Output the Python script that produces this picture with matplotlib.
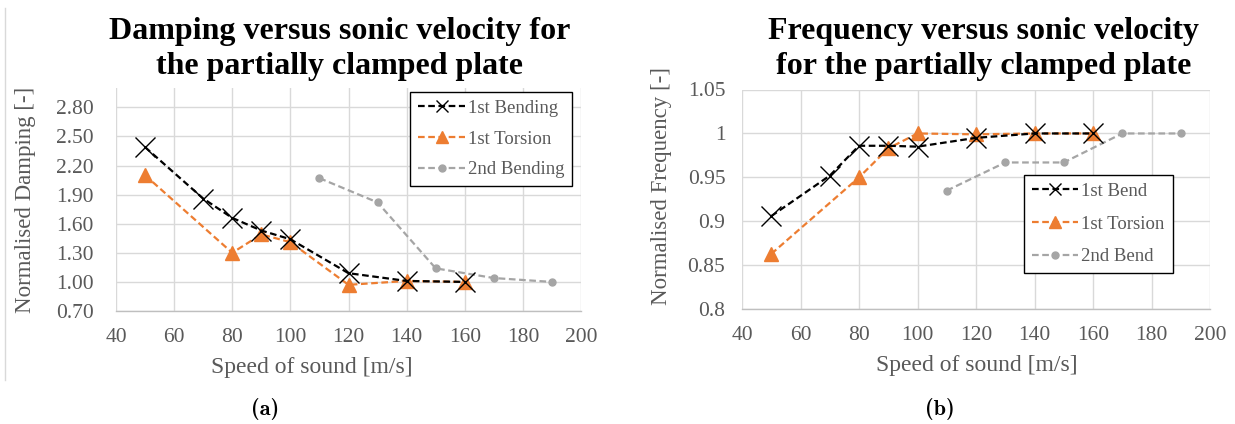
import matplotlib
matplotlib.use("Agg")
import matplotlib.pyplot as plt
from matplotlib.lines import Line2D

# ---------------- data ----------------
x_b1_damp = [50, 70, 80, 90, 100, 120, 140, 160]
y_b1_damp = [2.39, 1.86, 1.66, 1.53, 1.44, 1.09, 1.01, 1.00]
x_t1_damp = [50, 80, 90, 100, 120, 140, 160]
y_t1_damp = [2.10, 1.30, 1.49, 1.41, 0.97, 1.01, 1.00]
x_b2_damp = [110, 130, 150, 170, 190]
y_b2_damp = [2.07, 1.82, 1.14, 1.04, 1.00]

x_b1_freq = [50, 70, 80, 90, 100, 120, 140, 160]
y_b1_freq = [0.906, 0.952, 0.986, 0.986, 0.985, 0.995, 1.000, 1.000]
x_t1_freq = [50, 80, 90, 100, 120, 140, 160]
y_t1_freq = [0.863, 0.950, 0.983, 1.000, 0.999, 1.000, 1.000]
x_b2_freq = [110, 130, 150, 170, 190]
y_b2_freq = [0.935, 0.967, 0.967, 1.000, 1.000]

x_ticks = [40, 60, 80, 100, 120, 140, 160, 180, 200]
damp_ticks = [0.70, 1.00, 1.30, 1.60, 1.90, 2.20, 2.50, 2.80]
damp_tick_labels = ["0.70", "1.00", "1.30", "1.60", "1.90", "2.20", "2.50", "2.80"]
freq_ticks = [0.80, 0.85, 0.90, 0.95, 1.00, 1.05]
freq_tick_labels = ["0.8", "0.85", "0.9", "0.95", "1", "1.05"]

legend_damp = ["1st Bending", "1st Torsion", "2nd Bending"]
legend_freq = ["1st Bend", "1st Torsion", "2nd Bend"]

title_damp = "Damping versus sonic velocity for\nthe partially clamped plate"
title_freq = "Frequency versus sonic velocity\nfor the partially clamped plate"
xlabel = "Speed of sound [m/s]"
ylabel_damp = "Normalised Damping [-]"
ylabel_freq = "Normalised Frequency [-]"

# ---------------- style ----------------
W, H = 1235, 424
fig = plt.figure(figsize=(W / 100, H / 100), dpi=100)
SERIF = ["Liberation Serif", "DejaVu Serif"]
GRAY_TXT = "#595959"
GRID = "#d9d9d9"
C_BLACK = "#000000"
C_ORANGE = "#ed7d31"
C_GRAY = "#a5a5a5"


def fx(x):
    return x / W


def fy(y):
    return 1 - y / H


def make_axes(x0, x1, y0, y1):
    return fig.add_axes([fx(x0), fy(y1), (x1 - x0) / W, (y1 - y0) / H])


def style_axes(ax, yticks, ylabels, ylim, ypad, xpad):
    ax.set_xlim(40, 200)
    ax.set_ylim(*ylim)
    ax.set_xticks(x_ticks)
    ax.set_xticklabels([str(v) for v in x_ticks])
    ax.set_yticks(yticks)
    ax.set_yticklabels(ylabels)
    ax.grid(True, color=GRID, linewidth=1.0)
    ax.set_axisbelow(True)
    for s in ["top", "right", "left"]:
        ax.spines[s].set_visible(False)
    ax.spines["bottom"].set_color("#bfbfbf")
    ax.spines["bottom"].set_linewidth(1.0)
    ax.tick_params(axis="both", length=0, labelcolor=GRAY_TXT, labelsize=15.5)
    ax.tick_params(axis="y", pad=ypad)
    ax.tick_params(axis="x", pad=xpad)
    for lab in ax.get_xticklabels() + ax.get_yticklabels():
        lab.set_fontfamily(SERIF)


def plot_series(ax, xb1, yb1, xt1, yt1, xb2, yb2, labels, anchor, spacing):
    ax.plot(xb1, yb1, linestyle=(0, (3, 1.6)), color=C_BLACK, lw=1.6,
            marker="x", markersize=15, markeredgewidth=1.0, label=labels[0], zorder=4)
    ax.plot(xt1, yt1, linestyle=(0, (3, 1.6)), color=C_ORANGE, lw=1.6,
            marker="^", markersize=9.5, label=labels[1], zorder=3)
    ax.plot(xb2, yb2, linestyle=(0, (3, 1.6)), color=C_GRAY, lw=1.6,
            marker="o", markersize=5, label=labels[2], zorder=2)
    leg = ax.legend(loc="upper right", bbox_to_anchor=anchor, borderaxespad=0,
                    frameon=True, fancybox=False, edgecolor="#000000", framealpha=1,
                    prop={"family": SERIF, "size": 13.5}, labelcolor=GRAY_TXT,
                    handlelength=2.5, handletextpad=0.15, labelspacing=0.72 * spacing,
                    borderpad=0.42)
    leg.get_frame().set_linewidth(1.0)
    hs = leg.legend_handles
    hs[0].set_markersize(9)
    hs[1].set_markersize(8)
    hs[2].set_markersize(5)
    return leg


# ---------------- left chart ----------------
ax1 = make_axes(116, 581, 88, 311)
style_axes(ax1, damp_ticks, damp_tick_labels, (0.70, 3.00), 16, 12)
plot_series(ax1, x_b1_damp, y_b1_damp, x_t1_damp, y_t1_damp, x_b2_damp, y_b2_damp,
            legend_damp, (0.981, 0.982), 1.0)

# ---------------- right chart ----------------
ax2 = make_axes(742, 1210, 89.5, 309.3)
style_axes(ax2, freq_ticks, freq_tick_labels, (0.80, 1.05), 12, 12)
plot_series(ax2, x_b1_freq, y_b1_freq, x_t1_freq, y_t1_freq, x_b2_freq, y_b2_freq,
            legend_freq, (0.920, 0.611), 1.15)

# ---------------- texts ----------------
fig.text(fx(340), fy(49), title_damp, ha="center", va="center", fontsize=23,
         fontweight="bold", family=SERIF, color="black", linespacing=1.3)
fig.text(fx(984), fy(49), title_freq, ha="center", va="center", fontsize=23,
         fontweight="bold", family=SERIF, color="black", linespacing=1.3)

fig.text(fx(312), fy(367), xlabel, ha="center", va="center", fontsize=17,
         family=SERIF, color=GRAY_TXT)
fig.text(fx(977), fy(365), xlabel, ha="center", va="center", fontsize=17,
         family=SERIF, color=GRAY_TXT)
fig.text(fx(26), fy(200), ylabel_damp, ha="center", va="center", fontsize=16.5,
         family=SERIF, color=GRAY_TXT, rotation=90)
fig.text(fx(661), fy(186), ylabel_freq, ha="center", va="center", fontsize=16.5,
         family=SERIF, color=GRAY_TXT, rotation=90)

fig.text(fx(265), fy(409), "(a)", ha="center", va="center", fontsize=16,
         family=["cmb10", "DejaVu Serif"], color="black")
fig.text(fx(940), fy(409), "(b)", ha="center", va="center", fontsize=16,
         family=["cmb10", "DejaVu Serif"], color="black")

# chart-area border line on the left
fig.add_artist(Line2D([fx(5), fx(5)], [fy(8), fy(380)], color="#d9d9d9", lw=1.0))

fig.savefig("out.png", dpi=100)
